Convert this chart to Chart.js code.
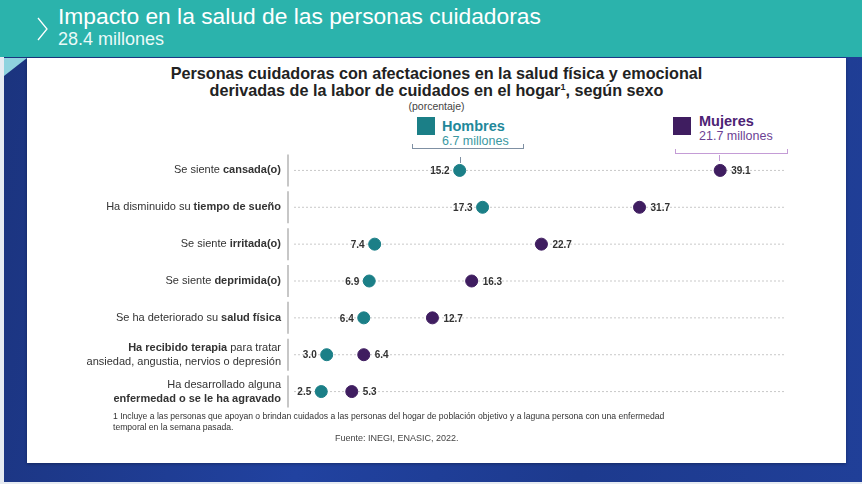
<!DOCTYPE html>
<html>
<head>
<meta charset="utf-8">
<script src="https://cdn.jsdelivr.net/npm/chart.js@4.4.1/dist/chart.umd.min.js"></script>
<style>
  body { margin: 0; width: 862px; height: 484px; overflow: hidden; font-family: 'Liberation Sans', Arial, sans-serif; position: relative;
    background: linear-gradient(100deg, #1b337d 0%, #2142a0 40%, #1d3a8e 70%, #203f98 100%); }
  .abs { position: absolute; white-space: nowrap; }
  #cabecera { left: 0; top: 0; width: 862px; height: 57px; background: #2bb3ac; }
  #panel { left: 27px; top: 58px; width: 819px; height: 405px; background: #fff; box-shadow: 0 1px 3px rgba(0,0,0,0.3); }
  #tri { left: 4px; top: 58px; width: 0; height: 0; border-top: 18px solid #8fd3df; border-right: 23px solid transparent; }
  .titulo { font-weight: bold; font-size: 16.2px; color: #222; text-align: center; width: 819px; left: 27px; }
  .cuadro { width: 18px; height: 18px; }
  .corchete { border: 1.2px solid; border-top: none; height: 4px; }
</style>
</head>
<body>
<div class="abs" style="left:0;top:0;width:4px;height:484px;background:#e6ebf2"></div>
<div class="abs" style="left:0;top:482px;width:862px;height:2px;background:#e6ebf2"></div>
<div id="cabecera" class="abs"></div>
<svg class="abs" style="left:36px;top:17px" width="14" height="24"><polyline points="2,1 11,12 2,23" fill="none" stroke="#ffffff" stroke-width="1.3"/></svg>
<div class="abs" style="left:58px;top:3px;font-size:22.8px;color:#fff">Impacto en la salud de las personas cuidadoras</div>
<div class="abs" style="left:58px;top:29px;font-size:18px;color:#eafaf8">28.4 millones</div>
<div id="panel" class="abs"></div>
<div id="tri" class="abs"></div>

<div class="abs titulo" style="top:64px">Personas cuidadoras con afectaciones en la salud física y emocional</div>
<div class="abs titulo" style="top:81px">derivadas de la labor de cuidados en el hogar<sup style="font-size:9px">1</sup>, según sexo</div>
<div class="abs" style="left:27px;width:819px;text-align:center;top:100px;font-size:10.5px;color:#444">(porcentaje)</div>

<!-- leyenda -->
<div class="abs cuadro" style="left:417px;top:117px;background:#1b7f87"></div>
<div class="abs" style="left:442px;top:118px;font-size:14.5px;font-weight:bold;color:#22889a">Hombres</div>
<div class="abs" style="left:442px;top:134px;font-size:12.5px;color:#3a98a2">6.7 millones</div>
<div class="abs corchete" style="left:412px;top:144px;width:110px;border-color:#7f90a3"></div>
<div class="abs" style="left:460px;top:157px;width:1.2px;height:6px;background:#7f90a3"></div>

<div class="abs cuadro" style="left:673px;top:117px;background:#3f1d60"></div>
<div class="abs" style="left:699px;top:113px;font-size:14.5px;font-weight:bold;color:#4d2374">Mujeres</div>
<div class="abs" style="left:699px;top:129px;font-size:12.5px;color:#6c3f94">21.7 millones</div>
<div class="abs corchete" style="left:675px;top:149px;width:111px;border-color:#c49cd6"></div>
<div class="abs" style="left:719px;top:155px;width:1.2px;height:6px;background:#c49cd6"></div>

<div class="abs" style="left:27px;top:58px"><canvas id="grafico" width="819" height="405"></canvas></div>

<div class="abs" style="left:113px;top:411px;font-size:8.6px;color:#333">1 Incluye a las personas que apoyan o brindan cuidados a las personas del hogar de población objetivo y a laguna persona con una enfermedad</div>
<div class="abs" style="left:113px;top:422px;font-size:8.6px;color:#333">temporal en la semana pasada.</div>
<div class="abs" style="left:335px;top:433px;font-size:9px;color:#444">Fuente: INEGI, ENASIC, 2022.</div>

<script>
// datos
const categorias = [
    ['Se siente cansada(o)'],
    ['Ha disminuido su tiempo de sueño'],
    ['Se siente irritada(o)'],
    ['Se siente deprimida(o)'],
    ['Se ha deteriorado su salud física'],
    ['Ha recibido terapia para tratar', 'ansiedad, angustia, nervios o depresión'],
    ['Ha desarrollado alguna', 'enfermedad o se le ha agravado']
]
const negritas = ['cansada(o)', 'tiempo de sueño', 'irritada(o)', 'deprimida(o)', 'salud física', 'Ha recibido terapia', 'enfermedad o se le ha agravado']
const hombres = [15.2, 17.3, 7.4, 6.9, 6.4, 3.0, 2.5]
const mujeres = [39.1, 31.7, 22.7, 16.3, 12.7, 6.4, 5.3]

const colorHombres = '#1b7f87'
const colorMujeres = '#3f1d60'
const fuente = "'Liberation Sans', Arial, sans-serif"

// lineas punteadas y separadores del eje
const lineasFondo = {
    id: 'lineasFondo',
    beforeDatasetsDraw(chart) {
        const { ctx, chartArea, scales } = chart
        ctx.save()
        categorias.forEach((c, i) => {
            const y = scales.y.getPixelForValue(i)
            ctx.strokeStyle = '#c9c9c9'
            ctx.lineWidth = 1
            ctx.setLineDash([2, 2])
            ctx.beginPath()
            ctx.moveTo(chartArea.left, y)
            ctx.lineTo(chartArea.right, y)
            ctx.stroke()
            ctx.setLineDash([])
            ctx.strokeStyle = '#b5b5b5'
            ctx.lineWidth = 1.5
            ctx.beginPath()
            ctx.moveTo(chartArea.left - 6, y - 16)
            ctx.lineTo(chartArea.left - 6, y + 16)
            ctx.stroke()
        })
        ctx.restore()
    }
}

// etiquetas de categorias con partes en negrita
const etiquetas = {
    id: 'etiquetas',
    afterDraw(chart) {
        const { ctx, chartArea, scales } = chart
        ctx.save()
        ctx.textBaseline = 'middle'
        ctx.fillStyle = '#333'
        categorias.forEach((lineas, i) => {
            const yc = scales.y.getPixelForValue(i)
            lineas.forEach((linea, j) => {
                const y = yc + (j - (lineas.length - 1) / 2) * 14
                const b = negritas[i]
                const k = linea.indexOf(b)
                let partes = [[linea, false]]
                if (k >= 0) {
                    partes = [[linea.slice(0, k), false], [b, true], [linea.slice(k + b.length), false]]
                }
                let ancho = 0
                partes.forEach(p => {
                    ctx.font = (p[1] ? 'bold ' : '') + '11px ' + fuente
                    ancho += ctx.measureText(p[0]).width
                })
                let x = chartArea.left - 13 - ancho
                partes.forEach(p => {
                    ctx.font = (p[1] ? 'bold ' : '') + '11px ' + fuente
                    ctx.fillText(p[0], x, y)
                    x += ctx.measureText(p[0]).width
                })
            })
        })
        // valores junto a los puntos
        ctx.font = 'bold 10px ' + fuente
        ctx.fillStyle = '#333'
        chart.getDatasetMeta(0).data.forEach((p, i) => {
            ctx.textAlign = 'right'
            ctx.fillText(hombres[i].toFixed(1), p.x - 10, p.y + 1)
        })
        chart.getDatasetMeta(1).data.forEach((p, i) => {
            ctx.textAlign = 'left'
            ctx.fillText(mujeres[i].toFixed(1), p.x + 11, p.y + 1)
        })
        ctx.restore()
    }
}

new Chart(document.getElementById('grafico'), {
    type: 'line',
    data: {
        labels: categorias,
        datasets: [
            {
                label: 'Hombres',
                data: hombres,
                showLine: false,
                pointRadius: 6,
                pointHoverRadius: 6,
                pointBackgroundColor: colorHombres,
                pointBorderColor: colorHombres,
                clip: false
            },
            {
                label: 'Mujeres',
                data: mujeres,
                showLine: false,
                pointRadius: 6,
                pointHoverRadius: 6,
                pointBackgroundColor: colorMujeres,
                pointBorderColor: colorMujeres,
                clip: false
            }
        ]
    },
    options: {
        indexAxis: 'y',
        responsive: false,
        animation: false,
        layout: { padding: { left: 267, right: 61.5, top: 94, bottom: 53 } },
        plugins: { legend: { display: false }, tooltip: { enabled: false } },
        scales: {
            x: { type: 'linear', min: 0, max: 45, display: false },
            y: { type: 'category', offset: true, display: false }
        }
    },
    plugins: [lineasFondo, etiquetas]
})
</script>
</body>
</html>
